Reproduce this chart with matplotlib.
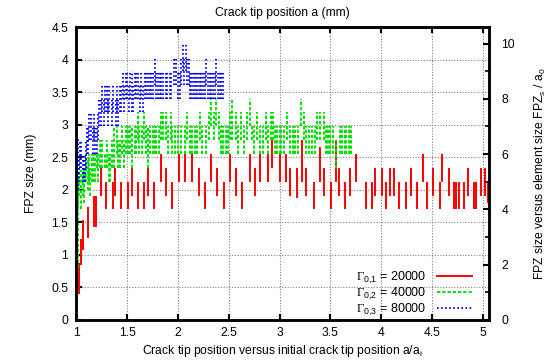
import matplotlib
matplotlib.use('Agg')
import matplotlib.pyplot as plt
from matplotlib.lines import Line2D
from matplotlib.ticker import MultipleLocator

plt.rcParams['font.family'] = ['Liberation Sans', 'DejaVu Sans']
plt.rcParams['mathtext.fontset'] = 'custom'
plt.rcParams['mathtext.rm'] = 'Liberation Serif'
plt.rcParams['mathtext.sf'] = 'Liberation Sans'
plt.rcParams['mathtext.it'] = 'Liberation Sans:italic'
plt.rcParams['mathtext.bf'] = 'Liberation Sans:bold'

element_size = 0.425  # a0 in mm

labels = [r'$\Gamma_{\mathsf{0{,}1}}$ = 20000',
          r'$\Gamma_{\mathsf{0{,}2}}$ = 40000',
          r'$\Gamma_{\mathsf{0{,}3}}$ = 80000']

x_ticks = [1, 1.5, 2, 2.5, 3, 3.5, 4, 4.5, 5]
y_ticks = [0, 0.5, 1, 1.5, 2, 2.5, 3, 3.5, 4, 4.5]
y2_ticks = [0, 2, 4, 6, 8, 10]

# Gamma = 20000 (red) : crack-tip position a/ai, FPZ range low/high (mm)
red_x = [1.010, 1.025, 1.040, 1.067, 1.110, 1.177, 1.190, 1.238, 1.290, 1.358, 1.380,
         1.440, 1.506, 1.543, 1.603, 1.660, 1.707, 1.764, 1.837, 1.886, 1.945, 2.007,
         2.066, 2.142, 2.207, 2.263, 2.329, 2.388, 2.450, 2.509, 2.568, 2.630, 2.706,
         2.755, 2.804, 2.886, 2.929, 3.008, 3.060, 3.099, 3.171, 3.224, 3.264, 3.339,
         3.395, 3.437, 3.503, 3.552, 3.582, 3.648, 3.697, 3.749, 3.854, 3.910, 3.943,
         4.012, 4.044, 4.084, 4.123, 4.175, 4.241, 4.297, 4.356, 4.411, 4.455, 4.510,
         4.576, 4.602, 4.667, 4.714, 4.740, 4.763, 4.812, 4.854, 4.910, 4.937, 4.979,
         5.019, 5.055]
red_lo = [0.00, 0.40, 0.84, 1.08, 1.26, 1.43, 1.43, 1.91, 1.70, 1.70, 1.91,
          1.70, 1.70, 1.91, 1.70, 1.70, 1.91, 1.70, 2.125, 1.91, 1.70, 2.125,
          2.125, 2.125, 1.91, 1.70, 2.125, 1.91, 1.70, 2.125, 1.91, 1.70, 2.125,
          1.91, 2.125, 2.125, 2.34, 2.125, 2.125, 1.91, 1.88, 2.125, 1.91, 1.70,
          2.125, 1.91, 1.70, 2.125, 1.91, 1.70, 1.91, 2.125, 1.70, 1.70, 1.91,
          1.91, 1.70, 1.91, 1.91, 1.70, 1.70, 1.91, 1.70, 2.125, 1.70, 1.91,
          1.70, 2.125, 1.91, 1.70, 1.70, 1.70, 1.70, 1.91, 1.70, 1.70, 1.91,
          1.91, 1.80]
red_hi = [0.50, 0.88, 1.25, 1.54, 1.74, 1.91, 1.91, 2.34, 2.125, 2.125, 2.34,
          2.125, 2.125, 2.34, 2.125, 2.125, 2.34, 2.125, 2.55, 2.34, 2.125, 2.55,
          2.55, 2.55, 2.34, 2.125, 2.55, 2.34, 2.125, 2.55, 2.34, 2.125, 2.55,
          2.34, 2.55, 2.55, 2.76, 2.55, 2.55, 2.34, 2.34, 2.76, 2.34, 2.125,
          2.66, 2.34, 2.125, 2.76, 2.34, 2.125, 2.34, 2.55, 2.125, 2.125, 2.34,
          2.34, 2.125, 2.34, 2.34, 2.125, 2.125, 2.34, 2.125, 2.55, 2.125, 2.34,
          2.125, 2.55, 2.34, 2.125, 2.125, 2.125, 2.125, 2.34, 2.125, 2.125, 2.34,
          2.34, 2.125]

# Gamma = 40000 (green)
green_x = [1.005, 1.012, 1.019, 1.030, 1.045, 1.060, 1.078, 1.095, 1.111, 1.125, 1.138,
           1.150, 1.165, 1.183, 1.198, 1.215, 1.232, 1.256, 1.282, 1.300, 1.316,
           1.331, 1.350, 1.374, 1.395, 1.412, 1.430, 1.453, 1.470, 1.490, 1.512,
           1.530, 1.551, 1.575, 1.590, 1.603, 1.620, 1.643, 1.665, 1.685, 1.709,
           1.725, 1.754, 1.770, 1.787, 1.810, 1.837, 1.855, 1.879, 1.900, 1.928,
           1.945, 1.968, 2.000, 2.033, 2.066, 2.090, 2.115, 2.140, 2.164, 2.190,
           2.214, 2.240, 2.273, 2.300, 2.329, 2.355, 2.378, 2.400, 2.420, 2.443,
           2.470, 2.492, 2.515, 2.535, 2.568, 2.590, 2.617, 2.650, 2.680, 2.706,
           2.728, 2.750, 2.780, 2.804, 2.835, 2.863, 2.886, 2.910, 2.935, 2.955,
           2.975, 3.000, 3.018, 3.043, 3.076, 3.100, 3.132, 3.155, 3.181, 3.214,
           3.237, 3.262, 3.289, 3.315, 3.345, 3.370, 3.394, 3.434, 3.455, 3.476,
           3.500, 3.526, 3.559, 3.590, 3.618, 3.640, 3.657, 3.680, 3.707]
green_lo = [0.00, 0.80, 1.70, 1.91, 1.70, 1.91, 1.80, 2.125, 2.00, 2.125, 1.91,
            2.125, 2.125, 2.125, 2.34, 2.125, 2.34, 2.34, 2.34, 2.34, 2.125,
            2.125, 2.34, 2.34, 2.55, 2.34, 2.34, 2.55, 2.34, 2.55, 2.55,
            2.55, 2.34, 2.55, 2.55, 2.76, 2.55, 2.55, 2.76, 2.55, 2.34,
            2.55, 2.55, 2.55, 2.55, 2.55, 2.76, 2.76, 2.76, 2.55, 2.76,
            2.55, 2.55, 2.55, 2.55, 2.55, 2.76, 2.55, 2.55, 2.55, 2.55,
            2.76, 2.55, 2.55, 2.76, 2.975, 2.76, 2.975, 2.76, 2.55, 2.55,
            2.55, 2.55, 2.76, 2.76, 2.76, 2.55, 2.76, 2.55, 2.76, 2.975,
            2.76, 2.55, 2.76, 2.55, 2.55, 2.76, 2.55, 2.76, 2.76, 2.55,
            2.55, 2.55, 2.55, 2.55, 2.76, 2.55, 2.55, 2.55, 2.55, 2.975,
            2.76, 2.55, 2.55, 2.55, 2.55, 2.76, 2.76, 2.76, 2.55, 2.55,
            2.55, 2.55, 2.34, 2.55, 2.55, 2.55, 2.55, 2.55, 2.55]
green_hi = [1.00, 1.90, 2.15, 2.34, 2.30, 2.34, 2.30, 2.55, 2.50, 2.55, 2.34,
            2.55, 2.55, 2.55, 2.55, 2.55, 2.76, 2.76, 2.55, 2.76, 2.55,
            2.55, 2.76, 2.975, 2.975, 2.76, 2.76, 2.975, 2.76, 2.975, 2.975,
            2.975, 2.975, 2.975, 2.975, 3.19, 2.975, 2.975, 3.19, 2.975, 2.975,
            2.975, 2.975, 2.975, 2.975, 2.975, 3.19, 3.19, 3.19, 2.975, 3.19,
            2.975, 2.975, 2.975, 2.975, 2.975, 3.19, 2.975, 2.975, 2.975, 2.975,
            3.19, 2.975, 2.975, 3.19, 3.40, 3.19, 3.40, 3.19, 2.975, 2.975,
            2.975, 2.975, 3.19, 3.40, 3.19, 2.975, 3.19, 2.975, 3.19, 3.40,
            2.975, 2.975, 3.19, 2.975, 2.975, 3.19, 2.975, 3.19, 3.19, 2.975,
            2.975, 2.975, 2.975, 2.975, 3.19, 2.975, 2.975, 2.975, 2.975, 3.40,
            3.19, 2.975, 2.975, 2.975, 2.975, 3.19, 3.19, 3.19, 2.975, 2.975,
            2.975, 2.975, 2.76, 2.975, 2.975, 2.975, 2.975, 2.975, 2.975]

# Gamma = 80000 (blue)
blue_x = [1.003, 1.008, 1.015, 1.025, 1.036, 1.048, 1.060, 1.070, 1.085, 1.092, 1.101,
          1.115, 1.128, 1.141, 1.160, 1.170, 1.183, 1.200, 1.212, 1.226, 1.240,
          1.255, 1.268, 1.282, 1.296, 1.310, 1.325, 1.347, 1.360, 1.387, 1.400,
          1.412, 1.426, 1.440, 1.455, 1.470, 1.485, 1.500, 1.515, 1.530, 1.544,
          1.560, 1.575, 1.590, 1.610, 1.626, 1.640, 1.655, 1.670, 1.686, 1.702,
          1.721, 1.736, 1.755, 1.771, 1.787, 1.803, 1.820, 1.837, 1.855, 1.879,
          1.895, 1.918, 1.935, 1.958, 1.984, 2.000, 2.017, 2.033, 2.049, 2.062,
          2.076, 2.090, 2.108, 2.120, 2.132, 2.150, 2.165, 2.181, 2.197, 2.214,
          2.230, 2.246, 2.263, 2.280, 2.296, 2.312, 2.329, 2.345, 2.362, 2.378,
          2.394, 2.410, 2.426, 2.443]
blue_lo = [0.00, 1.10, 2.00, 2.125, 2.34, 2.34, 2.125, 2.125, 2.125, 2.34, 2.55,
           2.55, 2.76, 2.76, 2.55, 2.76, 2.55, 2.55, 2.76, 2.975, 2.975,
           3.19, 2.975, 3.19, 3.19, 2.975, 3.19, 2.975, 3.19, 2.975, 3.19,
           2.975, 3.19, 3.19, 3.40, 3.19, 3.40, 3.40, 3.19, 3.40, 3.19,
           3.19, 3.40, 3.40, 3.40, 3.19, 3.40, 3.19, 3.40, 3.40, 3.40,
           3.40, 3.40, 3.40, 3.61, 3.40, 3.40, 3.40, 3.40, 3.40, 3.40,
           3.40, 3.40, 3.40, 3.61, 3.61, 3.40, 3.40, 3.61, 3.825, 3.61,
           3.825, 3.61, 3.61, 3.40, 3.40, 3.40, 3.40, 3.40, 3.40, 3.40,
           3.40, 3.40, 3.40, 3.61, 3.40, 3.40, 3.40, 3.40, 3.40, 3.61,
           3.40, 3.40, 3.40, 3.40]
blue_hi = [1.30, 2.50, 2.80, 2.55, 2.76, 2.76, 2.55, 2.55, 2.55, 2.76, 2.975,
           2.975, 3.19, 3.19, 2.975, 3.19, 2.975, 2.975, 3.19, 3.40, 3.40,
           3.61, 3.40, 3.61, 3.61, 3.40, 3.61, 3.40, 3.61, 3.40, 3.61,
           3.40, 3.61, 3.61, 3.825, 3.61, 3.825, 3.825, 3.61, 3.825, 3.825,
           3.61, 3.825, 3.825, 3.825, 3.61, 3.825, 3.61, 3.825, 3.825, 3.825,
           3.825, 3.825, 3.825, 4.04, 3.825, 3.825, 3.825, 3.825, 3.825, 3.825,
           3.825, 3.825, 3.825, 4.04, 4.04, 3.825, 3.825, 4.04, 4.25, 4.04,
           4.25, 4.04, 4.04, 3.825, 3.825, 3.825, 3.825, 3.825, 3.825, 3.825,
           3.825, 3.825, 3.825, 4.04, 3.825, 3.825, 3.825, 3.825, 3.825, 4.04,
           3.825, 3.825, 3.825, 3.825]

fig = plt.figure(figsize=(5.5, 3.64), dpi=100)
ax = fig.add_axes([0.139, 0.121, 0.750, 0.804])

lw = 1.4
red_style = dict(color='#ff0000', linewidth=lw, linestyle='-')
green_style = dict(color='#00e000', linewidth=lw, linestyle=(0, (1.7, 1.0)))
blue_style = dict(color='#0000ff', linewidth=lw, linestyle=(0, (0.8, 1.3)))

ax.vlines(red_x, red_lo, red_hi, colors=red_style['color'], linewidths=lw,
          linestyles=red_style['linestyle'], zorder=3)
ax.vlines(green_x, green_lo, green_hi, colors=green_style['color'], linewidths=lw,
          linestyles=[green_style['linestyle']], zorder=4)
ax.vlines(blue_x, blue_lo, blue_hi, colors=blue_style['color'], linewidths=lw,
          linestyles=[blue_style['linestyle']], zorder=5)

ax.set_xlim(1, 5.06)
ax.set_ylim(0, 4.5)
ax.set_xticks(x_ticks)
ax.set_xticklabels([f'{v:g}' for v in x_ticks])
ax.set_yticks(y_ticks)
ax.set_yticklabels([f'{v:g}' for v in y_ticks])
ax.grid(True, color='#808080', linestyle=(0, (1, 1.5)), linewidth=0.8, zorder=0)
ax.tick_params(axis='both', direction='in', length=4, width=1.5, labelsize=8.7,
               top=True, labeltop=False)
ax.tick_params(axis='x', pad=5)
ax.tick_params(axis='y', pad=6, right=False)
for s in ax.spines.values():
    s.set_linewidth(1.8)

ax2 = ax.twinx()
ax2.set_ylim(0, 4.5 / element_size)
ax2.set_yticks(y2_ticks)
ax2.set_yticklabels([f'{v:g}' for v in y2_ticks])
ax2.yaxis.set_minor_locator(MultipleLocator(1))
ax2.tick_params(axis='y', which='major', direction='in', length=4, width=1.5,
                labelsize=8.7, pad=9)
ax2.tick_params(axis='y', which='minor', direction='in', length=3, width=1.2)
for s in ax2.spines.values():
    s.set_linewidth(1.8)

ax.set_title('Crack tip position a (mm)', fontsize=8.7, pad=8)
ax.set_xlabel(r'Crack tip position versus initial crack tip position a/a$_\mathsf{i}$',
              fontsize=8.7, labelpad=3)
ax.set_ylabel('FPZ size (mm)', fontsize=8.7, labelpad=10)
ax2.set_ylabel(r'FPZ size versus element size FPZ$_\mathsf{s}$ / a$_\mathsf{0}$',
               fontsize=8.7, labelpad=13)

handles = [Line2D([], [], **red_style), Line2D([], [], **green_style),
           Line2D([], [], **blue_style)]
leg = ax.legend(handles, labels, loc='lower right', bbox_to_anchor=(0.97, -0.01),
                frameon=False, markerfirst=False, fontsize=9, handlelength=2.8,
                handletextpad=0.8, labelspacing=0.0, borderaxespad=0.0)
leg.set_zorder(10)

fig.savefig('out.png', dpi=100)
